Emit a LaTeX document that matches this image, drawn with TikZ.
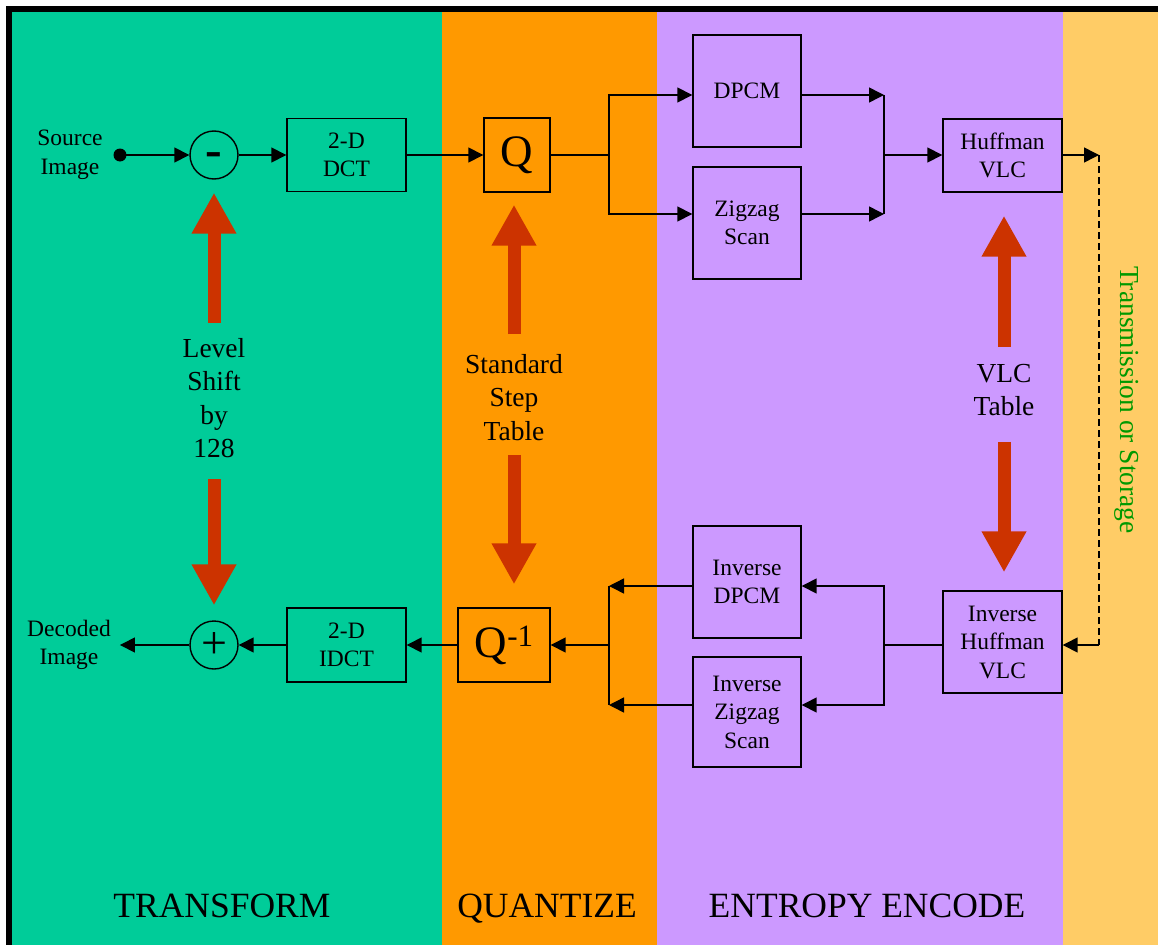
\documentclass[tikz,border=0pt]{standalone}
\usepackage{fontspec}
\setmainfont{Liberation Serif}
\usetikzlibrary{arrows.meta,calc,positioning}
\definecolor{transgreen}{HTML}{00CC99}
\definecolor{quantorange}{HTML}{FF9900}
\definecolor{entropypurple}{HTML}{CC99FF}
\definecolor{channelyellow}{HTML}{FFCC66}
\definecolor{tablered}{HTML}{CC3300}
\definecolor{channelgreen}{HTML}{009900}
\tikzset{
  blockbox/.style={draw,line width=1.4pt,align=center,inner sep=0pt,font=\fontsize{23.5}{28.5}\selectfont},
  sumnode/.style={draw,circle,line width=1.4pt,minimum size=48pt,inner sep=0pt},
  wire/.style={line width=1.5pt},
  sig/.style={-{Triangle[length=15pt,width=15pt]},line width=1.5pt},
  bigarrow/.style={-{Triangle[length=41pt,width=42pt]},line width=13pt,tablered},
  tablelabel/.style={align=center,inner sep=0pt,anchor=north,font=\fontsize{27.5}{33.5}\selectfont},
  sidelabel/.style={align=center,inner ysep=0pt,font=\fontsize{23.5}{28.5}\selectfont},
  paneltitle/.style={anchor=base,font=\fontsize{35.5}{40}\selectfont}
}
\begin{document}
\begin{tikzpicture}[x=1pt,y=-1pt]
\useasboundingbox (0,0) rectangle (1158,947);
\fill[black] (6,6) rectangle (1158,945);
\fill[transgreen] (12,12) rectangle (442,945);
\fill[quantorange] (442,12) rectangle (657,945);
\fill[entropypurple] (657,12) rectangle (1063,945);
\fill[channelyellow] (1063,12) rectangle (1158,945);

\node[blockbox,minimum width=119pt,minimum height=73pt] (dct) at (346.5,155) {2-D\\DCT};
\node[blockbox,minimum width=66pt,minimum height=74pt,font=\fontsize{45}{50}\selectfont] (q) at (517,155) {Q};
\node[blockbox,minimum width=108pt,minimum height=112pt] (dpcm) at (747,91) {DPCM};
\node[blockbox,minimum width=108pt,minimum height=112pt] (zigzag) at (747,223) {Zigzag\\Scan};
\node[blockbox,minimum width=119pt,minimum height=73pt] (huff) at (1002.5,155.5) {Huffman\\VLC};
\node[blockbox,minimum width=119pt,minimum height=102pt] (ihuff) at (1002.5,642) {Inverse\\Huffman\\VLC};
\node[blockbox,minimum width=108pt,minimum height=112pt] (idpcm) at (747,582) {Inverse\\DPCM};
\node[blockbox,minimum width=108pt,minimum height=110pt] (izigzag) at (747,712) {Inverse\\Zigzag\\Scan};
\node[blockbox,minimum width=92pt,minimum height=74pt,font=\fontsize{45}{50}\selectfont] (iq) at (504,645) {Q\raisebox{11pt}{\fontsize{31}{31}\selectfont -1}};
\node[blockbox,minimum width=119pt,minimum height=74pt] (idct) at (346.5,645) {2-D\\IDCT};
\node[sumnode,font=\fontsize{50}{50}\selectfont\bfseries,text height=22pt,text depth=0pt] (minus) at (214,155) {-};
\node[sumnode,font=\fontsize{46}{46}\selectfont] (plus) at (214,645) {+};
\node[circle,fill=black,inner sep=0pt,minimum size=13pt] (srcdot) at (120,155) {};
\node[sidelabel,inner xsep=0pt] (src) at (70,155) {Source\\Image};
\node[sidelabel,inner xsep=9pt] (decoded) at (69,645) {Decoded\\Image};

\node[tablelabel] (shift) at (214,338) {Level\\Shift\\by\\128};
\node[tablelabel] (steptable) at (514,354) {Standard\\Step\\Table};
\node[tablelabel] (vlctable) at (1004,364) {VLC\\Table};

\draw[bigarrow,shorten <=15pt,shorten >=13pt] (shift.north) -- (shift.north |- minus.south);
\draw[bigarrow,shorten <=21pt,shorten >=15pt] (shift.south) -- (shift.south |- plus.north);
\draw[bigarrow,shorten <=20pt,shorten >=12pt] (steptable.north) -- (steptable.north |- q.south);
\draw[bigarrow,shorten <=14pt,shorten >=23pt] (steptable.south) -- (steptable.south |- iq.north);
\draw[bigarrow,shorten <=17pt,shorten >=23pt] (vlctable.north) -- (vlctable.north |- huff.south);
\draw[bigarrow,shorten <=25.5pt,shorten >=18pt] (vlctable.south) -- (vlctable.south |- ihuff.north);

\draw[sig] (srcdot.center) -- (minus.west);
\draw[sig] (minus) -- (dct);
\draw[sig] (dct) -- (q);
\coordinate (qsplit) at (609,155);
\draw[wire] (q.east) -- (qsplit);
\draw[sig] (qsplit) |- (dpcm.west |- 0,95);
\draw[sig] (qsplit) |- (zigzag.west |- 0,214);
\coordinate (hjoin) at (884,155);
\draw[sig] (dpcm.east |- 0,95) -- (hjoin |- 0,95);
\draw[sig] (zigzag.east |- 0,214) -- (hjoin |- 0,214);
\draw[wire] (hjoin |- 0,95) -- (hjoin |- 0,214);
\draw[sig] (hjoin) -- (huff.west |- hjoin);
\coordinate (chan) at (1099,155);
\draw[sig] (huff.east |- chan) -- (chan);
\draw[line width=1.2pt,dash pattern=on 7pt off 4pt] (chan) -- (chan |- 0,645);
\draw[sig] (chan |- 0,645) -- (ihuff.east |- 0,645);
\coordinate (dsplit) at (884,645);
\draw[wire] (ihuff.west |- dsplit) -- (dsplit);
\draw[sig] (dsplit) |- (idpcm.east |- 0,586);
\draw[sig] (dsplit) |- (izigzag.east |- 0,705);
\coordinate (qjoin) at (609,645);
\draw[sig] (idpcm.west |- 0,586) -- (qjoin |- 0,586);
\draw[sig] (izigzag.west |- 0,705) -- (qjoin |- 0,705);
\draw[wire] (qjoin |- 0,586) -- (qjoin |- 0,705);
\draw[sig] (qjoin) -- (iq.east |- qjoin);
\draw[sig] (iq) -- (idct);
\draw[sig] (idct) -- (plus);
\draw[sig] (plus) -- (decoded);

\node[rotate=-90,font=\fontsize{27.5}{30}\selectfont,text=channelgreen] (medium) at (1127,400) {Transmission or Storage};
\node[paneltitle] (transformlbl) at (222,917) {TRANSFORM};
\node[paneltitle] (quantlbl) at (547,917) {QUANTIZE};
\node[paneltitle] (entropylbl) at (867,917) {ENTROPY ENCODE};
\end{tikzpicture}
\end{document}
